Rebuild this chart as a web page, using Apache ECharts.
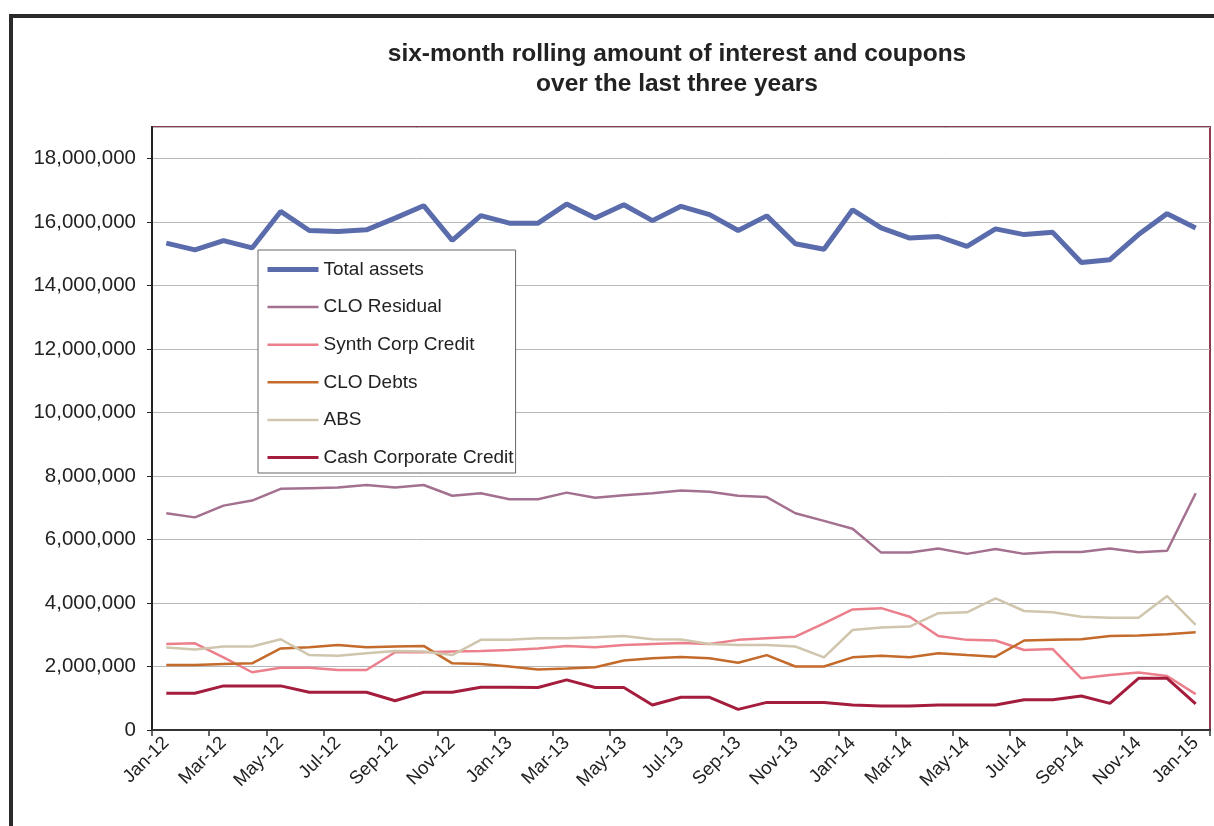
<!DOCTYPE html>
<html>
<head>
<meta charset="utf-8">
<script src="https://cdn.jsdelivr.net/npm/echarts@6/dist/echarts.min.js"></script>
<style>
html,body{margin:0;padding:0;background:#fff;}
#chart{width:1214px;height:826px;}
</style>
</head>
<body>
<div id="chart"></div>
<script>
var categories = ['Jan-12','Feb-12','Mar-12','Apr-12','May-12','Jun-12','Jul-12','Aug-12','Sep-12','Oct-12','Nov-12','Dec-12',
  'Jan-13','Feb-13','Mar-13','Apr-13','May-13','Jun-13','Jul-13','Aug-13','Sep-13','Oct-13','Nov-13','Dec-13',
  'Jan-14','Feb-14','Mar-14','Apr-14','May-14','Jun-14','Jul-14','Aug-14','Sep-14','Oct-14','Nov-14','Dec-14',
  'Jan-15'];

var totalAssets = [15340000,15130000,15420000,15190000,16340000,15740000,15710000,15760000,16130000,16520000,15430000,16210000,
  15970000,15970000,16570000,16130000,16550000,16050000,16500000,16240000,15740000,16200000,15320000,15150000,
  16390000,15820000,15500000,15550000,15240000,15790000,15610000,15680000,14730000,14820000,15610000,16270000,
  15820000];

var cloResidual = [6830000,6700000,7070000,7230000,7600000,7620000,7640000,7720000,7640000,7720000,7380000,7460000,
  7270000,7270000,7480000,7320000,7400000,7460000,7550000,7510000,7380000,7340000,6830000,6590000,
  6340000,5590000,5590000,5720000,5550000,5700000,5550000,5610000,5610000,5720000,5600000,5650000,
  7460000];

var synthCorpCredit = [2710000,2730000,2290000,1820000,1960000,1960000,1890000,1890000,2450000,2450000,2470000,2490000,
  2520000,2570000,2650000,2610000,2680000,2710000,2740000,2710000,2840000,2890000,2940000,3360000,
  3800000,3840000,3570000,2960000,2840000,2820000,2520000,2550000,1630000,1730000,1810000,1700000,
  1130000];

var cloDebts = [2050000,2050000,2080000,2100000,2570000,2610000,2680000,2610000,2630000,2650000,2100000,2080000,
  2000000,1910000,1940000,1980000,2190000,2260000,2300000,2260000,2120000,2360000,2000000,2000000,
  2290000,2340000,2290000,2420000,2360000,2310000,2820000,2840000,2860000,2960000,2980000,3020000,
  3080000];

var abs = [2600000,2540000,2630000,2630000,2860000,2360000,2340000,2420000,2490000,2470000,2360000,2840000,
  2840000,2890000,2890000,2920000,2960000,2860000,2850000,2710000,2680000,2680000,2630000,2290000,
  3150000,3230000,3260000,3680000,3710000,4150000,3750000,3710000,3570000,3540000,3540000,4220000,
  3310000];

var cashCorporateCredit = [1160000,1160000,1390000,1390000,1390000,1190000,1190000,1190000,920000,1190000,1190000,1350000,
  1350000,1340000,1580000,1340000,1340000,790000,1030000,1030000,650000,870000,870000,870000,
  790000,760000,760000,790000,790000,790000,950000,950000,1070000,840000,1630000,1630000,
  820000];

var seriesNames = ['Total assets','CLO Residual','Synth Corp Credit','CLO Debts','ABS','Cash Corporate Credit'];
var seriesColors = ['#5a6cab','#a3718f','#ec7f8c','#c46a2a','#cfc6ad','#a51d3d'];
var seriesWidths = [5,2.5,2.5,2.5,2.5,3];
var seriesData = [totalAssets,cloResidual,synthCorpCredit,cloDebts,abs,cashCorporateCredit];

var titleLines = ['six-month rolling amount of interest and coupons','over the last three years'];

var FONT = '"Liberation Sans", Arial, sans-serif';

var chart = echarts.init(document.getElementById('chart'), null, {renderer:'canvas'});

var series = seriesNames.map(function(n,i){
  return {
    name:n, type:'line', data:seriesData[i], symbol:'none', showSymbol:false,
    lineStyle:{color:seriesColors[i], width:seriesWidths[i]},
    itemStyle:{color:seriesColors[i]},
    emphasis:{disabled:true}, animation:false
  };
});

var legendData = seriesNames.map(function(n,i){
  return {name:n, itemStyle:{opacity:0}, lineStyle:{color:seriesColors[i], width:seriesWidths[i]}};
});

chart.setOption({
  animation:false,
  backgroundColor:'#ffffff',
  title:{
    text: titleLines.join('\n'),
    left: 672, top: 34, textAlign:'center',
    textStyle:{fontFamily:FONT, fontSize:24.5, fontWeight:'bold', color:'#222', lineHeight:30}
  },
  graphic:[{
    type:'rect', shape:{x:11, y:16, width:1300, height:900},
    style:{fill:null, stroke:'#2a2a2a', lineWidth:4}, silent:true, z:-1
  }],
  grid:{left:152, right:4, top:127, bottom:96, show:true, borderColor:'#8c3a50', borderWidth:2, backgroundColor:'transparent'},
  legend:{
    orient:'vertical', left:258, top:250,
    data:legendData,
    itemWidth:51, itemHeight:14, itemGap:18.6,
    padding:[10,2,6,7],
    itemStyle:{opacity:0},
    backgroundColor:'#ffffff', borderColor:'#666', borderWidth:1,
    textStyle:{fontFamily:FONT, fontSize:19, color:'#222'},
    selectedMode:false
  },
  xAxis:{
    type:'category', data:categories, boundaryGap:true,
    axisLine:{show:true, lineStyle:{color:'#333', width:2}},
    axisTick:{show:true, interval:1, length:6, inside:false, lineStyle:{color:'#333', width:1.5}},
    axisLabel:{interval:1, rotate:45, margin:10, fontFamily:FONT, fontSize:18.5, color:'#222'},
    splitLine:{show:false}
  },
  yAxis:{
    type:'value', min:0, max:19000000, interval:2000000,
    axisLine:{show:true, lineStyle:{color:'#222', width:2}},
    axisTick:{show:true, length:5, lineStyle:{color:'#222'}},
    axisLabel:{showMaxLabel:false, margin:16, fontFamily:FONT, fontSize:20.5, color:'#222',
      formatter:function(v){ return v.toLocaleString('en-US'); }},
    splitLine:{show:true, lineStyle:{color:'#b8b8b8', width:1}}
  },
  series:series
});
</script>
</body>
</html>
